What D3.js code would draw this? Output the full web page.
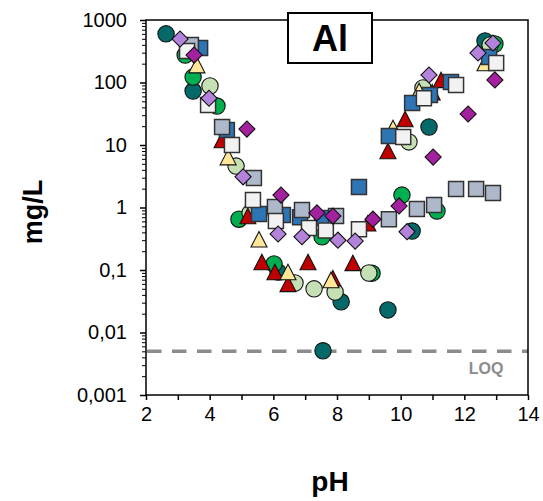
<!DOCTYPE html>
<html>
<head>
<meta charset="utf-8">
<script src="https://cdn.jsdelivr.net/npm/d3@7/dist/d3.min.js"></script>
<style>
  html, body { margin: 0; padding: 0; background: #fff; }
  svg { display: block; font-family: Arial, "Liberation Sans", sans-serif; }
</style>
</head>
<body>
<svg id="chart" width="543" height="501"></svg>
<script>
// Aluminium concentration (mg/L) against pH, ten sample groups
const tealCircles = [[2.63,600],[3.48,73],[6.15,0.093],[8.13,0.031],[7.56,0.0051],[9.60,0.023],[10.36,0.42],[10.89,19.4],[12.65,461]];
const greenCircles = [[3.23,275],[3.48,122],[4.23,42],[4.92,0.65],[6.02,0.125],[7.53,0.34],[9.10,0.089],[10.04,1.58],[11.14,0.88],[12.96,413]];
const paleGreenCircles = [[4.01,88],[4.83,4.6],[5.27,0.82],[6.68,0.062],[7.28,0.050],[7.94,0.0445],[9.00,0.0895],[10.26,11.2],[10.70,82],[12.81,398]];
const redTriangles = [[4.39,12],[5.20,0.73],[5.64,0.134],[6.05,0.093],[6.46,0.060],[7.09,0.134],[7.87,0.074],[8.50,0.13],[8.97,0.56],[9.60,8.0],[10.14,26],[10.99,70],[11.27,110]];
const yellowTriangles = [[3.60,190],[4.58,6.4],[5.55,0.31],[6.46,0.093],[7.81,0.069],[9.76,18.7],[10.58,73],[12.65,205]];
const blueSquares = [[3.70,357],[4.54,17.4],[5.55,0.79],[6.30,0.76],[6.84,0.70],[7.53,0.68],[8.69,2.13],[9.63,13.9],[10.36,47],[10.92,63],[11.58,102],[12.78,256]];
const greySquares = [[3.41,398],[4.39,19.4],[5.39,2.97],[6.05,1.02],[6.90,0.91],[7.97,0.73],[9.63,0.65],[10.51,0.95],[11.05,1.10],[11.74,1.98],[12.37,1.98],[12.90,1.71]];
const whiteSquares = [[3.29,319],[3.95,43.7],[4.70,10],[5.36,1.32],[6.08,0.61],[7.12,0.47],[7.65,0.43],[8.69,0.45],[10.08,13.4],[10.73,56],[11.74,91],[13.00,205]];
const lilacDiamonds = [[3.07,497],[3.98,56],[5.05,3.1],[6.15,0.377],[6.90,0.34],[8.03,0.30],[8.57,0.29],[10.20,0.41],[10.89,132],[12.43,297],[12.90,428]];
const magentaDiamonds = [[3.51,275],[5.17,18],[6.24,1.58],[7.37,0.82],[7.87,0.73],[9.13,0.65],[9.95,1.06],[11.02,6.4],[12.12,31.3],[12.96,110]];

const xTicks = [2,3,4,5,6,7,8,9,10,11,12,13,14];
const yMajorTicks = [0.001,0.01,0.1,1,10,100,1000];
const yTickLabels = ["0,001","0,01","0,1","1","10","100","1000"];
const loqValue = 0.005;
const titleText = "Al";

const series = [
  {data: tealCircles,      shape: "circle",   fill: "#05696a"},
  {data: greenCircles,     shape: "circle",   fill: "#00b050"},
  {data: paleGreenCircles, shape: "circle",   fill: "#c5e0b4"},
  {data: redTriangles,     shape: "triangle", fill: "#c00000"},
  {data: yellowTriangles,  shape: "triangle", fill: "#ffe699"},
  {data: blueSquares,      shape: "square",   fill: "#2e75b6"},
  {data: greySquares,      shape: "square",   fill: "#adb9ca"},
  {data: whiteSquares,     shape: "square",   fill: "#f2f2f2"},
  {data: lilacDiamonds,    shape: "diamond",  fill: "#b383dc"},
  {data: magentaDiamonds,  shape: "diamond",  fill: "#a3209f"}
];

const svg = d3.select("#chart");
const L = 146, R = 528, T = 20, B = 395;

const x = d3.scaleLinear().domain([2,14]).range([L,R]);
const y = d3.scaleLog().domain([0.001,1000]).range([B,T]);

// minor log ticks 2..9 within each decade
const yMinor = [];
yMajorTicks.slice(0,-1).forEach(d => { for (let k = 2; k <= 9; k++) yMinor.push(d*k); });

// y axis minor ticks
svg.append("g")
  .attr("transform", `translate(${L},0)`)
  .call(d3.axisLeft(y).tickValues(yMinor).tickSize(4).tickFormat(""))
  .call(g => g.select(".domain").remove())
  .selectAll("line").attr("stroke","#000").attr("stroke-width",1);

// y axis major ticks and labels
const yAxis = svg.append("g")
  .attr("transform", `translate(${L},0)`)
  .call(d3.axisLeft(y).tickValues(yMajorTicks).tickSize(6).tickPadding(13)
        .tickFormat((d,i) => yTickLabels[i]));
yAxis.select(".domain").remove();
yAxis.selectAll("line").attr("stroke","#000").attr("stroke-width",1.5);
yAxis.selectAll("text").attr("font-size",20).attr("fill","#000")
  .attr("font-family","Arial, 'Liberation Sans', sans-serif");

// x axis
const xAxis = svg.append("g")
  .attr("transform", `translate(0,${B})`)
  .call(d3.axisBottom(x).tickValues(xTicks).tickSize(5).tickPadding(7)
        .tickFormat(d => d % 2 === 0 ? d : ""));
xAxis.select(".domain").remove();
xAxis.selectAll("line").attr("stroke","#000").attr("stroke-width",1.5);
xAxis.selectAll("text").attr("font-size",20).attr("fill","#000")
  .attr("font-family","Arial, 'Liberation Sans', sans-serif");

// LOQ line
svg.append("line")
  .attr("x1", x(2)+1).attr("x2", x(14))
  .attr("y1", y(loqValue)).attr("y2", y(loqValue))
  .attr("stroke","#8c8c8c").attr("stroke-width",3.5)
  .attr("stroke-dasharray","14.5,10.5");
svg.append("text")
  .attr("x", 486).attr("y", 374)
  .attr("text-anchor","middle")
  .attr("font-size",16).attr("font-weight","bold").attr("fill","#8c8c8c")
  .text("LOQ");

// markers
const sym = {
  circle: d3.symbol().type(d3.symbolCircle).size(Math.PI*8.2*8.2),
  square: d3.symbol().type(d3.symbolSquare).size(15*15),
  diamond: d3.symbol().type(d3.symbolSquare).size(11.4*11.4),
  triangle: null
};
function trianglePath() {
  const w = 16, h = 15.5;
  return `M0,${-h/2}L${w/2},${h/2}L${-w/2},${h/2}Z`;
}
series.forEach(s => {
  const g = svg.append("g");
  g.selectAll("path").data(s.data).enter().append("path")
    .attr("d", () => s.shape === "triangle" ? trianglePath() : sym[s.shape]())
    .attr("transform", d => `translate(${x(d[0])},${y(d[1])})` + (s.shape === "diamond" ? " rotate(45)" : ""))
    .attr("fill", s.fill)
    .attr("stroke", s.shape === "square" ? "#333" : "#111")
    .attr("stroke-width", s.shape === "square" ? 1.5 : 1.1)
    .attr("stroke-linejoin","miter");
});

// plot frame
svg.append("rect")
  .attr("x", L).attr("y", T).attr("width", R-L).attr("height", B-T)
  .attr("fill","none").attr("stroke","#000").attr("stroke-width",1.5);

// title box
svg.append("rect")
  .attr("x", 288).attr("y", 13).attr("width", 84).attr("height", 50)
  .attr("fill","#fff").attr("stroke","#000").attr("stroke-width",2);
svg.append("text")
  .attr("x", 330).attr("y", 51).attr("text-anchor","middle")
  .attr("font-size",36).attr("font-weight","bold").attr("fill","#000")
  .text(titleText);

// axis titles
svg.append("text")
  .attr("transform","translate(42,212) rotate(-90)")
  .attr("text-anchor","middle")
  .attr("font-size",27).attr("font-weight","bold").attr("fill","#000")
  .text("mg/L");
svg.append("text")
  .attr("x", 330).attr("y", 491).attr("text-anchor","middle")
  .attr("font-size",28).attr("font-weight","bold").attr("fill","#000")
  .text("pH");
</script>
</body>
</html>
